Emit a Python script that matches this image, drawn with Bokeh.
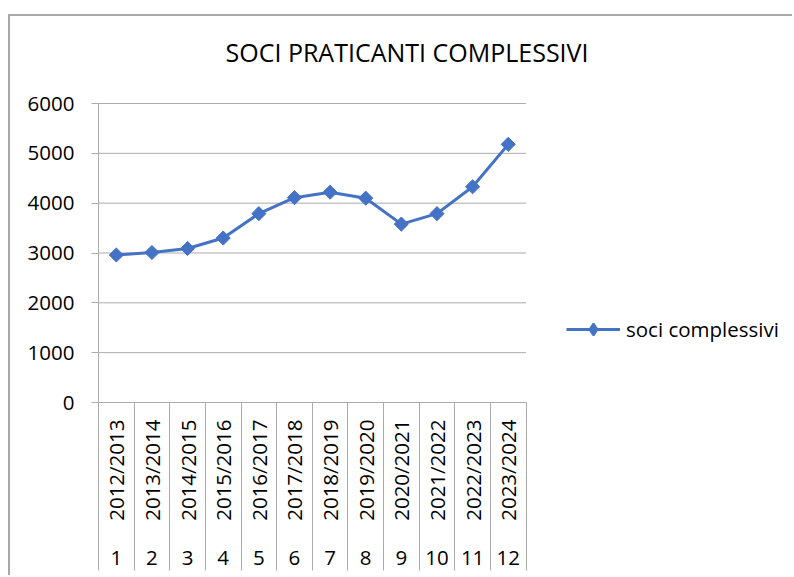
import math
from bokeh.plotting import figure
from bokeh.models import (Range1d, FixedTicker, LinearAxis, Legend, LegendItem,
                          ColumnDataSource, Label)
from bokeh.embed import file_html
from bokeh.resources import INLINE

# ---- data ----
years = ["2012/2013", "2013/2014", "2014/2015", "2015/2016", "2016/2017", "2017/2018",
         "2018/2019", "2019/2020", "2020/2021", "2021/2022", "2022/2023", "2023/2024"]
numbers = ["1", "2", "3", "4", "5", "6", "7", "8", "9", "10", "11", "12"]
soci = [2960, 3010, 3090, 3300, 3790, 4110, 4220, 4100, 3580, 3790, 4330, 5180]
y_ticks = [0, 1000, 2000, 3000, 4000, 5000, 6000]
title_text = "SOCI PRATICANTI COMPLESSIVI"
series_name = "soci complessivi"

FONT = "Open Sans"
FS = "20.5px"
GRAY = "#ababab"
BLUE = "#4472C4"

n = len(years)
pos = list(range(1, n + 1))
bounds = [p_ - 0.5 for p_ in pos] + [pos[-1] + 0.5]
cat_lo, cat_hi = 0.5, n + 0.5
y_max = max(y_ticks)

W, H = 784, 561
LEFT, BOTTOM = 88, 175
PLOT_TOP = 87                 # pixel row (canvas) where the top tick sits
FRAME_H = H - BOTTOM
cat_px = 35.63
x_end = 0.5 + (W - LEFT) / cat_px
y_end = y_max * FRAME_H / (FRAME_H - PLOT_TOP)

p = figure(width=W, height=H, output_backend="svg", toolbar_location=None,
           x_range=Range1d(0.5, x_end), y_range=Range1d(0, y_end),
           x_axis_type=None, y_axis_type=None,
           min_border_left=LEFT, min_border_right=0, min_border_top=0,
           min_border_bottom=BOTTOM)
p.outline_line_color = None
p.background_fill_color = "white"
p.border_fill_color = "white"
p.styles = {"margin-left": "8px", "margin-top": "14px",
            "border-left": "2px solid #a8a8a8", "border-top": "2px solid #a8a8a8"}

# y axis
yax = LinearAxis(ticker=FixedTicker(ticks=y_ticks, minor_ticks=[]), bounds=(0, y_max))
yax.axis_line_color = GRAY
yax.major_tick_line_color = GRAY
yax.major_tick_out = 7
yax.major_tick_in = 0
yax.minor_tick_line_color = None
yax.major_label_text_font = FONT
yax.major_label_text_font_size = FS
yax.major_label_text_color = "black"
yax.major_label_standoff = 17
p.add_layout(yax, "left")

# x axis: years (inner level) + category separators
xax = LinearAxis(ticker=FixedTicker(ticks=pos, minor_ticks=bounds), bounds=(cat_lo, cat_hi))
xax.major_label_overrides = {i: y for i, y in zip(pos, years)}
xax.major_label_orientation = math.pi / 2
xax.axis_line_color = GRAY
xax.major_tick_line_color = None
xax.major_tick_out = 0
xax.major_tick_in = 0
xax.minor_tick_line_color = GRAY
xax.minor_tick_out = 168
xax.minor_tick_in = 0
xax.major_label_text_font = FONT
xax.major_label_text_font_size = FS
xax.major_label_text_color = "black"
xax.major_label_standoff = -151
p.add_layout(xax, "below")

# x axis: numbers (outer level)
xax2 = LinearAxis(ticker=FixedTicker(ticks=pos, minor_ticks=[]), bounds=(cat_lo, cat_hi))
xax2.major_label_overrides = {i: s for i, s in zip(pos, numbers)}
xax2.axis_line_color = None
xax2.major_tick_line_color = None
xax2.minor_tick_line_color = None
xax2.major_tick_out = 0
xax2.major_tick_in = 0
xax2.major_label_text_font = FONT
xax2.major_label_text_font_size = FS
xax2.major_label_text_color = "black"
xax2.major_label_standoff = 27
p.add_layout(xax2, "below")

# horizontal gridlines limited to the category area
p.xgrid.grid_line_color = None
p.ygrid.grid_line_color = None
p.segment(x0=[cat_lo] * len(y_ticks), x1=[cat_hi] * len(y_ticks), y0=y_ticks, y1=y_ticks,
          line_color=GRAY, line_width=1)

src = ColumnDataSource(dict(x=pos, y=soci))
lr = p.line("x", "y", source=src, line_color=BLUE, line_width=3)
sr = p.scatter("x", "y", source=src, marker="square", angle=math.pi / 4, size=10,
               fill_color=BLUE, line_color=BLUE)
# hidden renderer used only for the legend's diamond symbol
dummy = p.scatter("x", "y", source=src, marker="diamond", fill_color=BLUE,
                  line_color=BLUE, line_width=2, visible=False)

legend = Legend(items=[LegendItem(label=series_name, renderers=[lr, dummy])],
                location=(468, 58), orientation="vertical")
legend.label_text_font = FONT
legend.label_text_font_size = FS
legend.label_text_color = "black"
legend.glyph_width = 54
legend.glyph_height = 30
legend.label_height = 30
legend.label_standoff = 6
legend.padding = 0
legend.margin = 0
legend.spacing = 0
legend.border_line_color = None
legend.background_fill_alpha = 0
legend.inactive_fill_alpha = 0
legend.click_policy = "none"
p.add_layout(legend, "center")

title = Label(x=127, y=FRAME_H - 35.5, x_units="screen", y_units="screen", text=title_text,
              text_font=FONT, text_font_size="25px", text_color="black",
              text_align="left", text_baseline="alphabetic")
p.add_layout(title)

open("out.html", "w").write(file_html(p, INLINE))
